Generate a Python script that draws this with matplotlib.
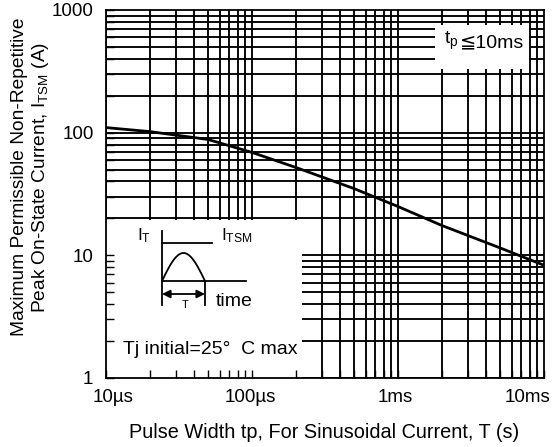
import numpy as np
import matplotlib.pyplot as plt
from matplotlib.patches import Rectangle
from matplotlib.transforms import ScaledTranslation

plt.rcParams['font.family'] = ['Liberation Sans', 'DejaVu Sans']
plt.rcParams['mathtext.fontset'] = 'custom'
plt.rcParams['mathtext.rm'] = 'Liberation Sans'
plt.rcParams['mathtext.it'] = 'Liberation Sans'

# surge current curve
pulse_width = [1e-5, 2e-5, 5e-5, 1e-4, 2e-4, 5e-4, 1e-3, 2e-3, 5e-3, 1e-2]
i_tsm = [110, 102, 88, 69, 52, 35, 25, 17.5, 11.5, 8.3]

x_ticks = [1e-5, 1e-4, 1e-3, 1e-2]
x_labels = ['10µs', '100µs', '1ms', '10ms']
x_label_shift = [7, -2, -3, -16]  # px, labels are not centred in the original
y_ticks = [1, 10, 100, 1000]
y_labels = ['1', '10', '100', '1000']

W, H = 553, 447
fig = plt.figure(figsize=(W / 100, H / 100), dpi=100)
ax = fig.add_axes([106 / W, 1 - 378 / H, 438 / W, 368 / H])
ax.set_xscale('log')
ax.set_yscale('log')
ax.set_xlim(1e-5, 1e-2)
ax.set_ylim(1, 1000)

# grid drawn by hand so the white boxes can sit on top of it
xgrid = [m * 10.0 ** e for e in range(-5, -2) for m in range(1, 10)]
ygrid = [m * 10.0 ** e for e in range(0, 3) for m in range(1, 10)]
for gx in xgrid:
    ax.axvline(gx, color='black', lw=1.35, zorder=1)
for gy in ygrid:
    ax.axhline(gy, color='black', lw=1.35, zorder=1)

# white boxes behind the inset and the tp label
ax.add_patch(Rectangle((1e-5, 1), 2.2e-4 - 1e-5, 19.5 - 1, facecolor='white',
                       edgecolor='none', zorder=1.5))
ax.add_patch(Rectangle((1.8e-3, 330), 7.9e-3 - 1.8e-3, 760 - 330, facecolor='white',
                       edgecolor='none', zorder=1.5))

ax.plot(pulse_width, i_tsm, color='black', lw=2.0, zorder=3)

tp = ax.text(2.05e-3, 530, r't$_\mathrm{p}$', fontsize=14, ha='left', va='baseline', zorder=4)
ax.annotate('≦10ms', xy=(1, 0), xycoords=tp, xytext=(1, 0), textcoords='offset points',
            fontsize=14, ha='left', va='bottom', zorder=4)

ax.set_xticks(x_ticks)
ax.set_xticklabels([])
ax.set_yticks(y_ticks)
ax.set_yticklabels(y_labels, fontsize=13.5)
ax.tick_params(which='both', direction='in', length=6, width=1, top=False, right=False)
ax.tick_params(axis='y', pad=9)
for s in ax.spines.values():
    s.set_linewidth(1.3)

for xv, lab, dx in zip(x_ticks, x_labels, x_label_shift):
    tr = ax.get_xaxis_transform() + ScaledTranslation(dx / 100, -20 / 100, fig.dpi_scale_trans)
    ax.text(xv, 0, lab, transform=tr, fontsize=13.5, ha='center', va='center')

ax.set_ylabel('Maximum Permissible Non-Repetitive\nPeak On-State Current, I$_\\mathrm{TSM}$ (A)',
              fontsize=13.8, linespacing=1.15)
ax.yaxis.set_label_coords(-0.171, 0.546)
ax.yaxis.label.set_va('center')
ax.set_xlabel('Pulse Width tp, For Sinusoidal Current, T (s)', fontsize=14.3)
ax.xaxis.set_label_coords(0.498, -0.147)
ax.xaxis.label.set_va('center')

# schematic of the sinusoidal pulse, drawn in pixel-like units
x0, x1, y0, y1 = 110, 302, 222, 366
ins = fig.add_axes([x0 / W, 1 - y1 / H, (x1 - x0) / W, (y1 - y0) / H])
ins.set_xlim(x0, x1)
ins.set_ylim(y1, y0)
ins.axis('off')
ins.plot([162, 162], [231, 305], color='black', lw=1.3)
ins.plot([162, 212], [243, 243], color='black', lw=1.3)
ins.plot([162, 246], [281, 281], color='black', lw=1.3)
ins.plot([205, 205], [281, 305], color='black', lw=1.3)
hx = np.linspace(162, 205, 50)
ins.plot(hx, 281 - 28 * np.sin(np.pi * (hx - 162) / 43), color='black', lw=1.3)
ins.annotate('', xy=(162, 294), xytext=(205, 294),
             arrowprops=dict(arrowstyle='<|-|>', color='black', lw=1.3,
                             shrinkA=0, shrinkB=0, mutation_scale=12))
ins.text(137, 236, 'I$_\\mathrm{T}$', fontsize=12.5, ha='left', va='center')
ins.text(221, 236, 'I$_\\mathrm{TSM}$', fontsize=12.5, ha='left', va='center')
ins.text(185, 305, 'T', fontsize=8, ha='center', va='center')
ins.text(216, 301, 'time', fontsize=14, ha='left', va='center')
ins.text(210, 350, 'Tj initial=25°  C max', fontsize=14, ha='center', va='center')

fig.savefig('out.png', dpi=100)
